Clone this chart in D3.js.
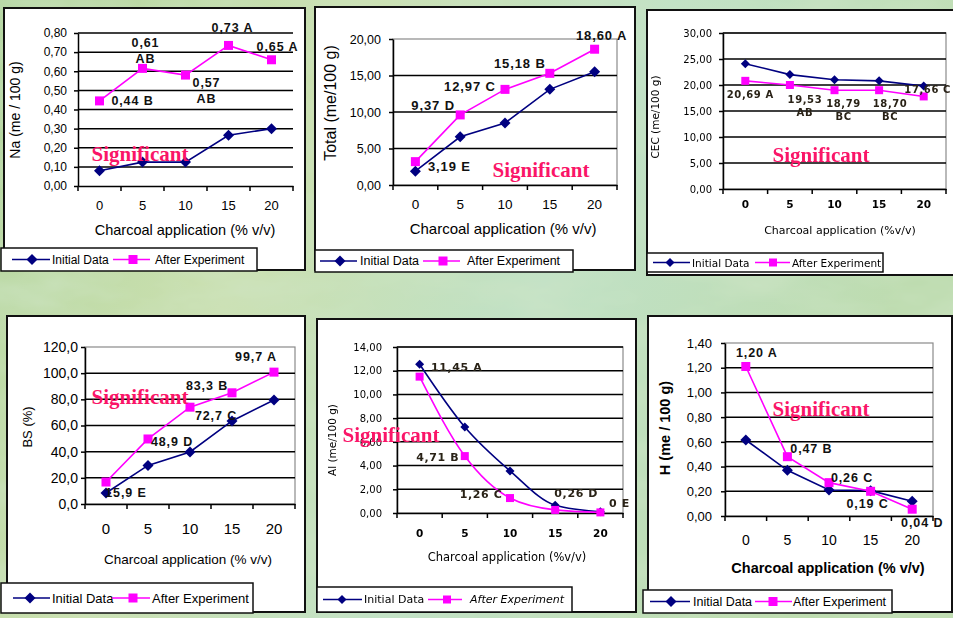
<!DOCTYPE html>
<html>
<head>
<meta charset="utf-8">
<script src="https://cdn.jsdelivr.net/npm/d3@7"></script>
<style>
  html, body { margin: 0; padding: 0; background: #c4dfb2; }
  svg { display: block; }
</style>
</head>
<body>
<svg id="chart" width="953" height="618"></svg>
<script>
// data
const categories = ["0", "5", "10", "15", "20"];
const seriesNames = ["Initial Data", "After Experiment"];

const naInitial = [0.08, 0.125, 0.125, 0.265, 0.30];
const naAfter = [0.445, 0.615, 0.58, 0.735, 0.66];
const naLabels = [["0,44 B"], ["0,61", "AB"], ["0,57", "AB"], ["0,73 A"], ["0,65 A"]];
const naTicks = [0, 0.1, 0.2, 0.3, 0.4, 0.5, 0.6, 0.7, 0.8];

const totalInitial = [1.9, 6.6, 8.5, 13.1, 15.5];
const totalAfter = [3.2, 9.6, 13.1, 15.3, 18.6];
const totalLabels = [["3,19 E"], ["9,37 D"], ["12,97 C"], ["15,18 B"], ["18,60 A"]];
const totalTicks = [0, 5, 10, 15, 20];

const cecInitial = [24.1, 22.0, 21.0, 20.8, 19.8];
const cecAfter = [20.8, 20.0, 19.0, 19.0, 17.8];
const cecLabels = [["20,69 A"], ["19,53", "AB"], ["18,79", "BC"], ["18,70", "BC"], ["17,66 C"]];
const cecTicks = [0, 5, 10, 15, 20, 25, 30];

const bsInitial = [8.4, 29.5, 39.8, 63.5, 79.5];
const bsAfter = [16.8, 49.7, 74.0, 85.0, 100.8];
const bsLabels = [["15,9 E"], ["48,9 D"], ["72,7 C"], ["83,3 B"], ["99,7 A"]];
const bsTicks = [0, 20, 40, 60, 80, 100, 120];

const alInitial = [12.55, 7.25, 3.55, 0.65, 0.1];
const alAfter = [11.5, 4.8, 1.26, 0.26, 0.05];
const alLabels = [["11,45 A"], ["4,71 B"], ["1,26 C"], ["0,26 D"], ["0 E"]];
const alTicks = [0, 2, 4, 6, 8, 10, 12, 14];

const hInitial = [0.615, 0.37, 0.21, 0.205, 0.12];
const hAfter = [1.21, 0.48, 0.27, 0.2, 0.055];
const hLabels = [["1,20 A"], ["0,47 B"], ["0,26 C"], ["0,19 C"], ["0,04 D"]];
const hTicks = [0, 0.2, 0.4, 0.6, 0.8, 1.0, 1.2, 1.4];

const xTitle = "Charcoal application (% v/v)";
const xTitleSmall = "Charcoal application (%v/v)";
const note = "Significant";

const BLUE = "#000080", PINK = "#ff00ff", SIG = "#fa1568";
const ARIAL = "'Liberation Sans', Arial, sans-serif";
const DEJA = "'DejaVu Sans', sans-serif";

// layout of the six panels
const panels = [
  { box: [4, 8, 305, 270], plot: [78, 293, 33, 186], initial: naInitial, after: naAfter, labels: naLabels,
    ticks: naTicks, dec: ".2f", yTitle: "Na (me / 100 g)", xTitle: xTitle, font: ARIAL,
    tick: 12, yPad: 7, xLab: 19, titleSize: 14.5, yTitleSize: 14, xTitleY: 44, xTitleX: 185, yTitleX: 15, yTitleY: 110,
    labelSize: 12.5, gap: 16, off: [[33, 0], [3, -25], [21, 8], [4, -17], [6, -13]], sig: [140, 154],
    legend: { box: [1, 248, 257, 271], b: [12, 50, 32, 52], p: [113, 150, 133, 155], size: 12 } },
  { box: [315, 7, 635, 270], plot: [393, 617, 39, 185], initial: totalInitial, after: totalAfter, labels: totalLabels,
    ticks: totalTicks, dec: ".2f", yTitle: "Total (me/100 g)", xTitle: xTitle, font: ARIAL, frame: true,
    tick: 12.5, yPad: 8, xLab: 19, titleSize: 15, yTitleSize: 16, xTitleY: 43, xTitleX: 503, yTitleX: 330, yTitleY: 103,
    labelSize: 13, gap: 16, off: [[34, 4], [-27, -10], [-35, -3], [-30, -10], [7, -14]], sig: [541, 170],
    legend: { box: [315, 250, 573, 272], b: [320, 357, 340, 360], p: [423, 460, 443, 467], size: 12.5 } },
  { box: [647, 10, 962, 275], plot: [723, 946, 33, 189], initial: cecInitial, after: cecAfter, labels: cecLabels,
    ticks: cecTicks, dec: ".2f", yTitle: "CEC (me/100 g)", xTitle: xTitleSmall, font: DEJA, blur: true, frame: true,
    tick: 10, yPad: 7, xLab: 15, titleSize: 11, yTitleSize: 10.5, xTitleY: 41, xTitleX: 840, yTitleX: 655, yTitleY: 117,
    labelSize: 10, gap: 13, off: [[5, 13], [15, 14], [9, 13], [11, 13], [4, -7]], sig: [821, 155], small: true,
    legend: { box: [647, 253, 883, 272], b: [653, 690, 670, 692], p: [755, 790, 773, 792], size: 10.5 } },
  { box: [7, 316, 305, 612], plot: [85, 295, 347, 504], initial: bsInitial, after: bsAfter, labels: bsLabels,
    ticks: bsTicks, dec: ".1f", yTitle: "BS (%)", xTitle: xTitle, font: ARIAL, frame: true,
    tick: 14, yPad: 3, xLab: 24, titleSize: 13.5, yTitleSize: 13, xTitleY: 55, xTitleX: 188, yTitleX: 27, yTitleY: 427,
    labelSize: 12.5, gap: 16, off: [[20, 11], [24, 3], [26, 9], [-25, -7], [-18, -15]], sig: [140, 397],
    legend: { box: [1, 583, 253, 613], b: [13, 50, 30, 52], p: [112, 150, 133, 152], size: 13 } },
  { box: [317, 319, 636, 612], plot: [397, 623, 347, 513], initial: alInitial, after: alAfter, labels: alLabels,
    ticks: alTicks, dec: ".2f", yTitle: "Al (me/100 g)", xTitle: xTitleSmall, font: DEJA, blur: true, frame: true, smooth: true,
    tick: 10, yPad: 11, xLab: 20, titleSize: 11.5, yTitleSize: 10.5, xTitleY: 44, xTitleX: 507, yTitleX: 332, yTitleY: 440,
    labelSize: 11, gap: 13, off: [[37, -10], [-27, 1], [-29, -4], [21, -17], [19, -9]], sig: [391, 435], small: true,
    legend: { box: [317, 587, 572, 612], b: [323, 362, 342, 364], p: [428, 462, 447, 470], size: 11 } },
  { box: [648, 316, 952, 612], plot: [725, 933, 343, 516], initial: hInitial, after: hAfter, labels: hLabels,
    ticks: hTicks, dec: ".2f", yTitle: "H (me / 100 g)", xTitle: xTitle, font: ARIAL, frame: true, bold: true,
    tick: 13, yPad: 9, xLab: 24, titleSize: 14.5, yTitleSize: 14.5, xTitleY: 52, xTitleX: 828, yTitleX: 665, yTitleY: 428,
    labelSize: 12.5, gap: 16, off: [[11, -13], [24, -8], [23, -5], [-3, 13], [10, 14]], sig: [821, 409],
    legend: { box: [643, 590, 892, 613], b: [650, 690, 671, 693], p: [755, 792, 773, 793], size: 12.5 } }
];

const svg = d3.select("#chart");
const defs = svg.append("defs");

// mottled green background
const tex = defs.append("filter").attr("id", "tex").attr("x", 0).attr("y", 0).attr("width", 1).attr("height", 1);
tex.append("feTurbulence").attr("type", "fractalNoise").attr("baseFrequency", "0.01 0.025")
  .attr("numOctaves", 4).attr("seed", 7);
tex.append("feColorMatrix").attr("type", "matrix")
  .attr("values", "0 0 0 0 0.62  0 0 0 0 0.78  0 0 0 0 0.56  1.1 0 0 0 -0.38");
defs.append("filter").attr("id", "soft").append("feGaussianBlur").attr("stdDeviation", 0.45);

const grad = defs.append("linearGradient").attr("id", "bg").attr("x1", 0).attr("x2", 1).attr("y1", 0).attr("y2", 0.3);
grad.append("stop").attr("offset", 0).attr("stop-color", "#b2d59e");
grad.append("stop").attr("offset", 0.35).attr("stop-color", "#cbe0b0");
grad.append("stop").attr("offset", 0.65).attr("stop-color", "#c0e1c6");
grad.append("stop").attr("offset", 1).attr("stop-color", "#bedcb0");

svg.append("rect").attr("width", 953).attr("height", 618).attr("fill", "url(#bg)");
svg.append("rect").attr("width", 953).attr("height", 618).attr("filter", "url(#tex)");

const diamond = r => `M0,${-r}L${r},0L0,${r}L${-r},0Z`;

function marker(g, kind, small) {
  if (kind === 0) {
    return g.append("path").attr("d", diamond(small ? 4.5 : 5.5)).attr("fill", BLUE);
  }
  const s = small ? 8 : 9;
  return g.append("rect").attr("x", -s / 2).attr("y", -s / 2).attr("width", s).attr("height", s).attr("fill", PINK);
}

function drawPanel(p) {
  const g = svg.append("g");
  g.append("rect")
    .attr("x", p.box[0]).attr("y", p.box[1])
    .attr("width", p.box[2] - p.box[0]).attr("height", p.box[3] - p.box[1])
    .attr("fill", "#fff").attr("stroke", "#111").attr("stroke-width", 2);

  const c = g.append("g");
  if (p.blur) c.attr("filter", "url(#soft)");

  const x = d3.scaleBand().domain(categories).range([p.plot[0], p.plot[1]]).padding(0);
  const yMax = p.ticks[p.ticks.length - 1];
  const y = d3.scaleLinear().domain([0, yMax]).range([p.plot[3], p.plot[2]]);
  const cx = i => x(categories[i]) + x.bandwidth() / 2;
  const fmt = d => d3.format(p.dec)(d).replace(".", ",");
  const weight = p.bold ? "bold" : "normal";

  if (p.frame) {
    c.append("rect")
      .attr("x", p.plot[0]).attr("y", p.plot[2])
      .attr("width", p.plot[1] - p.plot[0]).attr("height", p.plot[3] - p.plot[2])
      .attr("fill", "none").attr("stroke", "#8a8a8a").attr("stroke-width", 1.2);
  }

  // gridlines
  c.append("g").selectAll("line")
    .data(p.ticks.filter(t => t > 0 && !(p.frame && t === yMax && !p.small)))
    .join("line")
    .attr("x1", p.plot[0]).attr("x2", p.plot[1])
    .attr("y1", d => y(d)).attr("y2", d => y(d))
    .attr("stroke", "#000").attr("stroke-width", 1.5);

  // y axis
  const ya = c.append("g")
    .attr("transform", `translate(${p.plot[0]},0)`)
    .call(d3.axisLeft(y).tickValues(p.ticks).tickSize(4).tickSizeOuter(0).tickPadding(p.yPad).tickFormat(fmt));
  ya.attr("font-family", p.font).attr("font-size", p.tick);
  ya.selectAll("line, path").attr("stroke", "#000").attr("stroke-width", 1.5);
  ya.selectAll("text").attr("fill", "#000");

  // x axis, tick marks between categories
  const xa = c.append("g")
    .attr("transform", `translate(0,${p.plot[3]})`)
    .call(d3.axisBottom(x).tickSize(0).tickSizeOuter(0).tickPadding(p.xLab - p.tick * 0.36));
  xa.attr("font-family", p.font).attr("font-size", p.tick + (p.small ? 0.5 : 1));
  xa.selectAll("path").attr("stroke", "#000").attr("stroke-width", 1.5);
  xa.selectAll("text").attr("fill", "#000").attr("font-weight", p.small ? "bold" : "normal");
  xa.selectAll(".sep")
    .data(d3.range(categories.length + 1))
    .join("line")
    .attr("x1", i => p.plot[0] + i * x.bandwidth()).attr("x2", i => p.plot[0] + i * x.bandwidth())
    .attr("y1", 0).attr("y2", 5)
    .attr("stroke", "#000").attr("stroke-width", 1.5);

  // axis titles
  c.append("text")
    .attr("x", p.xTitleX).attr("y", p.plot[3] + p.xTitleY)
    .attr("text-anchor", "middle").attr("dominant-baseline", "central")
    .attr("font-family", p.font).attr("font-size", p.titleSize).attr("font-weight", weight)
    .text(p.xTitle);
  c.append("text")
    .attr("transform", `translate(${p.yTitleX},${p.yTitleY}) rotate(-90)`)
    .attr("text-anchor", "middle").attr("dominant-baseline", "central")
    .attr("font-family", p.font).attr("font-size", p.yTitleSize).attr("font-weight", weight)
    .text(p.yTitle);

  // series
  const line = d3.line()
    .x((d, i) => cx(i))
    .y(d => y(d))
    .curve(p.smooth ? d3.curveMonotoneX : d3.curveLinear);

  [p.initial, p.after].forEach((vals, k) => {
    c.append("path").datum(vals)
      .attr("d", line)
      .attr("fill", "none").attr("stroke", k === 0 ? BLUE : PINK).attr("stroke-width", 1.6);
    vals.forEach((v, i) => {
      marker(c.append("g").attr("transform", `translate(${cx(i)},${y(v)})`), k, p.small);
    });
  });

  // value labels beside the "after" points
  p.labels.forEach((lines, i) => {
    const t = c.append("text")
      .attr("font-family", p.font).attr("font-size", p.labelSize).attr("font-weight", "bold")
      .attr("letter-spacing", p.small ? 0.6 : 0.9)
      .attr("fill", p.small ? "#2a2418" : "#111")
      .attr("text-anchor", "middle").attr("dominant-baseline", "central");
    lines.forEach((s, j) => {
      t.append("tspan")
        .attr("x", cx(i) + p.off[i][0])
        .attr("y", y(p.after[i]) + p.off[i][1] + j * p.gap)
        .text(s);
    });
  });

  // "Significant" note
  c.append("text")
    .attr("x", p.sig[0]).attr("y", p.sig[1])
    .attr("text-anchor", "middle").attr("dominant-baseline", "central")
    .attr("font-family", "'Liberation Serif', 'Times New Roman', serif")
    .attr("font-size", 21).attr("font-weight", "bold").attr("fill", SIG)
    .text(note);

  // legend
  const L = p.legend;
  const lg = c.append("g");
  lg.append("rect")
    .attr("x", L.box[0]).attr("y", L.box[1])
    .attr("width", L.box[2] - L.box[0]).attr("height", L.box[3] - L.box[1])
    .attr("fill", "#fff").attr("stroke", "#111").attr("stroke-width", 1.5);
  const ly = (L.box[1] + L.box[3]) / 2;
  [L.b, L.p].forEach((it, k) => {
    lg.append("line")
      .attr("x1", it[0]).attr("x2", it[1]).attr("y1", ly).attr("y2", ly)
      .attr("stroke", k === 0 ? BLUE : PINK).attr("stroke-width", 1.6);
    marker(lg.append("g").attr("transform", `translate(${it[2]},${ly})`), k, p.small);
    lg.append("text")
      .attr("x", it[3]).attr("y", ly)
      .attr("dominant-baseline", "central")
      .attr("font-family", p.font).attr("font-size", L.size)
      .attr("font-style", p.smooth && k === 1 ? "italic" : "normal")
      .text(seriesNames[k]);
  });
}

panels.forEach(drawPanel);
</script>
</body>
</html>
